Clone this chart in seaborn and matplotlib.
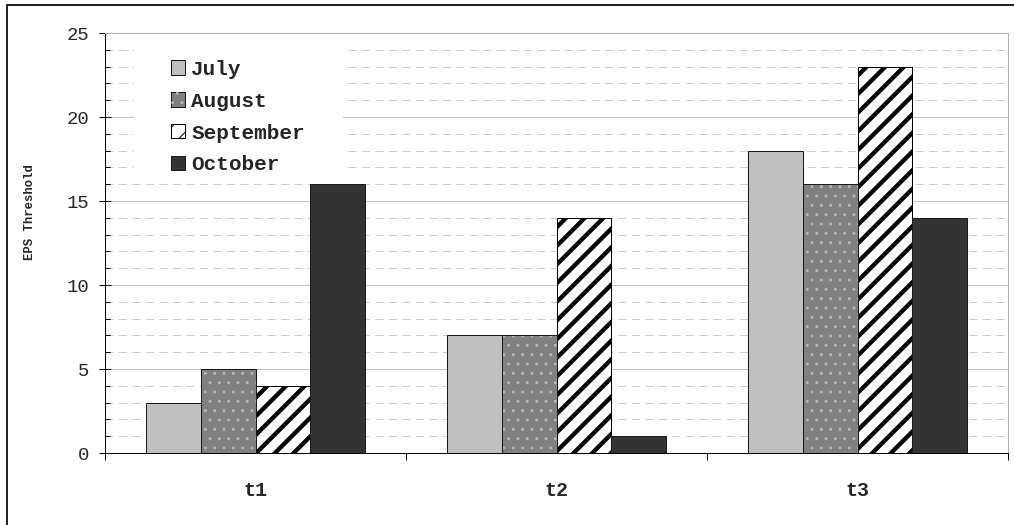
import matplotlib
matplotlib.use("Agg")
import matplotlib.pyplot as plt
from matplotlib.patches import Patch, Rectangle
from matplotlib.ticker import MultipleLocator
import pandas as pd
import seaborn as sns

# ---- data -------------------------------------------------------------
categories = ["t1", "t2", "t3"]
months = ["July", "August", "September", "October"]
july = [3, 7, 18]
august = [5, 7, 16]
september = [4, 14, 23]
october = [16, 1, 14]
y_label = "EPS Threshold"

df = pd.DataFrame({
    "test": categories * 4,
    "month": [m for m in months for _ in categories],
    "value": july + august + september + october,
})

# ---- style ------------------------------------------------------------
DPI = 56
W, H = 1014, 525


def P(px):
    """pixels -> points at the figure resolution"""
    return px * 72.0 / DPI


sns.set_style("white")
plt.rcParams["font.family"] = ["Liberation Mono", "DejaVu Sans Mono"]
plt.rcParams["hatch.linewidth"] = P(1.0)

STRIPE_LW = P(4.3)

fig = plt.figure(figsize=(W / DPI, H / DPI), dpi=DPI)
ax = fig.add_axes([105 / W, 1 - 453 / H, 903 / W, 420 / H])

face = {"July": "#c0c0c0", "August": "#808080",
        "September": "#ffffff", "October": "#333333"}
edge = "#1a1a1a"
dot_color = "#b8b8b8"

sns.barplot(data=df, x="test", y="value", hue="month", hue_order=months,
            order=categories, palette=face, saturation=1, width=0.73,
            edgecolor=edge, linewidth=P(1.0), legend=False, ax=ax, zorder=2)

# stripes for September, light dots for August
for cont, month in zip(ax.containers, months):
    for bar in cont:
        if month == "September":
            bar.set_hatch("/")
            bar.set_edgecolor("black")
            if hasattr(bar, "set_hatch_linewidth"):
                bar.set_hatch_linewidth(STRIPE_LW)
            else:
                bar._hatch_linewidth = STRIPE_LW
        elif month == "August":
            ax.add_patch(Rectangle(bar.get_xy(), bar.get_width(), bar.get_height(),
                                   fill=False, hatch=".", edgecolor=dot_color,
                                   linewidth=0, zorder=2.5))
            ax.add_patch(Rectangle(bar.get_xy(), bar.get_width(), bar.get_height(),
                                   fill=False, edgecolor=edge, linewidth=P(1.0),
                                   zorder=3))

# ---- axes -------------------------------------------------------------
ax.set_xlim(-0.5, 2.5)
ax.set_ylim(0, 25)
ax.set_axisbelow(True)

ax.yaxis.set_major_locator(MultipleLocator(5))
ax.yaxis.set_minor_locator(MultipleLocator(1))
ax.yaxis.grid(True, which="major", color="#c4c4c4", linewidth=P(1.0), linestyle="-")
ax.yaxis.grid(True, which="minor", color="#cccccc", linewidth=P(1.0),
              linestyle=(0, (8, 5.5)))
ax.xaxis.grid(False)

ax.set_xticks([-0.5, 0.5, 1.5, 2.5], labels=[""] * 4)
ax.set_xticks([0, 1, 2], labels=categories, minor=True)
ax.tick_params(axis="x", which="major", direction="out", length=P(7),
               width=P(1.0), color="black", bottom=True)
ax.tick_params(axis="x", which="minor", length=0, pad=P(28), labelsize=P(20))
for lbl in ax.get_xticklabels(minor=True):
    lbl.set_fontweight("bold")

ax.tick_params(axis="y", which="major", direction="inout", length=P(12),
               width=P(1.0), color="black", left=True, labelsize=P(19), pad=P(10))
ax.tick_params(axis="y", which="minor", direction="in", length=P(5),
               width=P(1.0), color="black", left=True)

ax.set_xlabel("")
ax.set_ylabel(y_label, fontsize=P(12.2), fontweight="bold")
ax.yaxis.set_label_coords(-0.076, (453 - 212) / 420)

for side in ("top", "right"):
    ax.spines[side].set_visible(True)
    ax.spines[side].set_color("#b0b0b0")
    ax.spines[side].set_linewidth(P(1.0))
for side in ("left", "bottom"):
    ax.spines[side].set_visible(True)
    ax.spines[side].set_color("black")
    ax.spines[side].set_linewidth(P(1.0))

# white panel behind the legend
ax.add_patch(Rectangle((29 / 903, (453 - 180) / 420), 209 / 903, 140 / 420,
                       transform=ax.transAxes, facecolor="white",
                       edgecolor="none", zorder=0.8))

sept_handle = Patch(facecolor="white", edgecolor="black", linewidth=P(1.0), hatch="/")
if hasattr(sept_handle, "set_hatch_linewidth"):
    sept_handle.set_hatch_linewidth(STRIPE_LW)
handles = [
    Patch(facecolor=face["July"], edgecolor=edge, linewidth=P(1.0)),
    (Patch(facecolor=face["August"], edgecolor=edge, linewidth=P(1.0)),
     Patch(fill=False, hatch=".", edgecolor=dot_color, linewidth=0)),
    sept_handle,
    Patch(facecolor=face["October"], edgecolor=edge, linewidth=P(1.0)),
]
ax.legend(handles, months, loc="upper left",
          bbox_to_anchor=((171 - 105) / 903, (453 - 60) / 420),
          frameon=False, borderpad=0, borderaxespad=0,
          prop={"family": ["Liberation Mono"], "weight": "bold", "size": P(21)},
          handlelength=0.67, handleheight=0.67, handletextpad=0.3,
          labelspacing=0.61)

# outer frame
fig.add_artist(Rectangle((7 / W, -0.1), 1.2, 1.1 - 5 / H,
                         transform=fig.transFigure, fill=False,
                         edgecolor="black", linewidth=P(1.7), clip_on=False))

fig.savefig("out.png", dpi=DPI)
